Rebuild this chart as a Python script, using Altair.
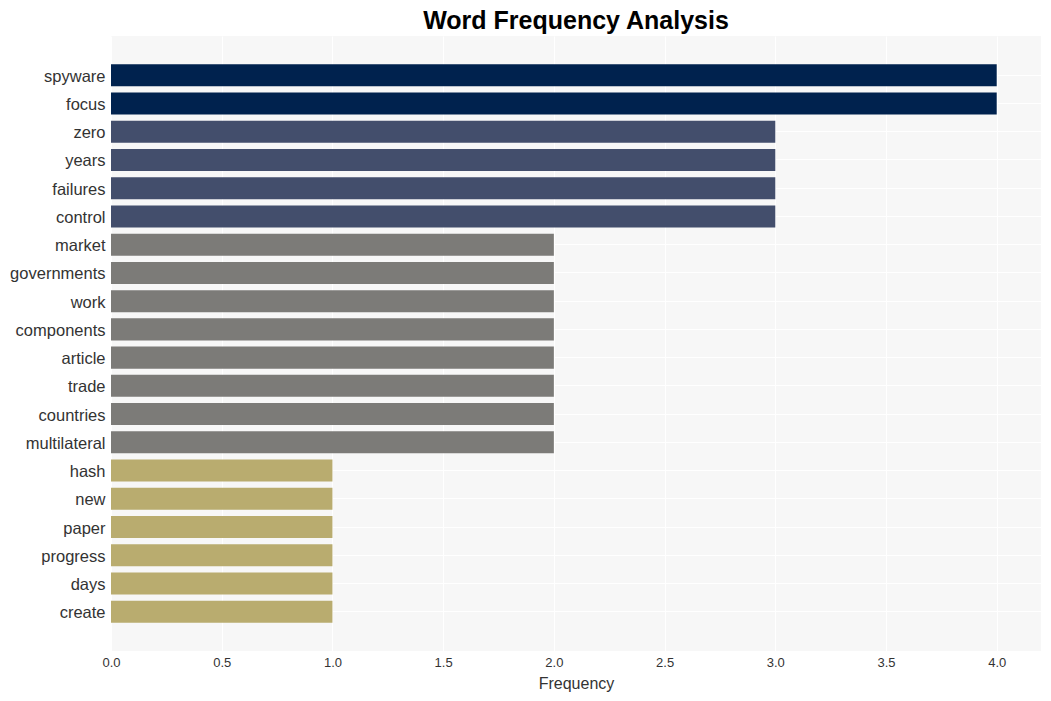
import altair as alt
import pandas as pd

words = ["spyware", "focus", "zero", "years", "failures", "control", "market",
         "governments", "work", "components", "article", "trade", "countries",
         "multilateral", "hash", "new", "paper", "progress", "days", "create"]
freqs = [4, 4, 3, 3, 3, 3, 2, 2, 2, 2, 2, 2, 2, 2, 1, 1, 1, 1, 1, 1]
color_levels = [1, 2, 3, 4]
color_values = ["#b9ac6f", "#7c7b78", "#434e6c", "#00224e"]

df = pd.DataFrame({"word": words, "freq": freqs})

chart = alt.Chart(df).mark_bar().encode(
    x=alt.X("freq:Q", title="Frequency",
            scale=alt.Scale(domain=[0, 4.2], nice=False, zero=True),
            axis=alt.Axis(values=[0, 0.5, 1, 1.5, 2, 2.5, 3, 3.5, 4], format=".1f",
                          domain=False, ticks=False, grid=True, gridColor="white",
                          gridWidth=1, labelFontSize=13, labelColor="#333333",
                          labelFlush=False, labelPadding=5, titleFontSize=16,
                          titleColor="#333333", titleFontWeight="normal", titlePadding=6,
                          labelFont="Liberation Sans", titleFont="Liberation Sans")),
    y=alt.Y("word:N", sort=words, title=None,
            scale=alt.Scale(paddingInner=0.22, paddingOuter=1.0),
            axis=alt.Axis(domain=False, ticks=False, grid=True, gridColor="white",
                          labelFontSize=16.5, labelColor="#333333", labelPadding=6,
                          labelOffset=1.5, labelFont="Liberation Sans")),
    color=alt.Color("freq:O", legend=None,
                    scale=alt.Scale(domain=color_levels, range=color_values)),
).properties(
    width=930, height=615,
    title=alt.TitleParams("Word Frequency Analysis", fontSize=25, fontWeight="bold",
                          font="Liberation Sans", color="black", anchor="middle", offset=2),
    autosize=alt.AutoSizeParams(type="none"),
    padding={"left": 103, "top": 28, "right": 2, "bottom": 50},
).configure_view(fill="#f7f7f7", stroke=None)

chart.save("out.html", embed_options={"renderer": "svg", "actions": False})
